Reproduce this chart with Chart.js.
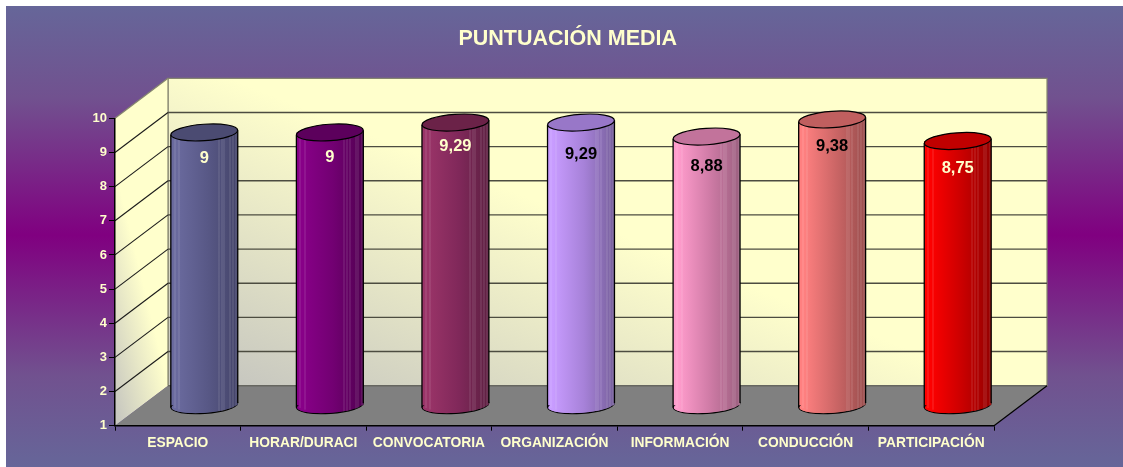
<!DOCTYPE html>
<html><head><meta charset="utf-8">
<style>html,body{margin:0;padding:0;background:#fff;overflow:hidden}canvas{display:block}</style>
<script src="https://cdn.jsdelivr.net/npm/chart.js@4"></script>
</head><body><canvas id="c" width="1123" height="467"></canvas>
<script>
const chartTitle = 'PUNTUACIÓN MEDIA';
const categories = ['ESPACIO','HORAR/DURACI','CONVOCATORIA','ORGANIZACIÓN','INFORMACIÓN','CONDUCCIÓN','PARTICIPACIÓN'];
const scores = [9, 9, 9.29, 9.29, 8.88, 9.38, 8.75];
const axisMin = 1, axisMax = 10, axisStep = 1;

const barLight = ['#6a6a9e','#880088','#9a3468','#c89cff','#ff9ccc','#ff8080','#ff0000'];
const barMid   = ['#585886','#720072','#80285a','#a681d8','#cf7ba6','#cc6666','#cc0000'];
const barDark  = ['#44446a','#520052','#5e2042','#77609c','#9c6080','#9a4e4e','#960000'];
const capFill  = ['#4b4b72','#5c005c','#6b2248','#9877c8','#c2739b','#c05f5f','#c00000'];
const labelInk = ['#ffffcc','#ffffcc','#ffffcc','#000000','#000000','#000000','#ffffcc'];
const labelDrop = [26,25,24,32,30,27,27];
const stripes = [.05,.12,.71,.75,.79,.88,.92,.97];

const cream = '#ffffcc', depthX = 53, depthY = -40, midX = depthX/2, midY = depthY/2;
const capRy = 8.2, capTilt = -0.07, categoryShare = 0.533;
const fontFamily = '"Liberation Sans", Arial, sans-serif';

function line(ctx,x1,y1,x2,y2,col,w){ctx.strokeStyle=col;ctx.lineWidth=w;ctx.beginPath();ctx.moveTo(x1,y1);ctx.lineTo(x2,y2);ctx.stroke();}
function poly(ctx,pts,fill,stroke){ctx.beginPath();pts.forEach((p,i)=>i?ctx.lineTo(p[0],p[1]):ctx.moveTo(p[0],p[1]));ctx.closePath();
  if(fill){ctx.fillStyle=fill;ctx.fill();} if(stroke){ctx.strokeStyle=stroke;ctx.lineWidth=1.2;ctx.stroke();}}

function barFill(ctx,l,r,i){
  const g=ctx.createLinearGradient(l,0,r,0);
  g.addColorStop(0,barLight[i]);g.addColorStop(.08,barLight[i]);g.addColorStop(.55,barMid[i]);g.addColorStop(1,barDark[i]);
  return g;
}

const scene3d = {
  id:'scene3d',
  beforeDraw(chart){
    const {ctx,chartArea:a,scales:{y}} = chart, W=chart.width, H=chart.height;
    ctx.save();
    ctx.fillStyle='#ffffff';ctx.fillRect(0,0,W,H);
    const bg=ctx.createLinearGradient(0,6,0,H);
    bg.addColorStop(0,'#666699');bg.addColorStop(0.2,'#71518f');bg.addColorStop(0.497,'#800080');bg.addColorStop(0.8,'#71518f');bg.addColorStop(1,'#666699');
    ctx.fillStyle=bg;ctx.fillRect(6,6,W-6,H-6);
    const L=a.left,R=a.right,T=a.top,B=a.bottom;
    // back wall
    const g=ctx.createLinearGradient(L+145,B-36,L+248,B-294);
    g.addColorStop(0,'#c8c8c0');g.addColorStop(1,cream);
    poly(ctx,[[L+depthX,T+depthY],[R+depthX,T+depthY],[R+depthX,B+depthY],[L+depthX,B+depthY]],g,'#85856f');
    // side wall
    const s=ctx.createLinearGradient(L,B-20,L+55,B-33.5);
    s.addColorStop(0,'#c8c8c0');s.addColorStop(1,cream);
    poly(ctx,[[L,T],[L+depthX,T+depthY],[L+depthX,B+depthY],[L,B]],s,null);
    line(ctx,L,T,L+depthX,T+depthY,'#85856f',1.2);
    line(ctx,L+depthX,T+depthY,L+depthX,B+depthY,'#85856f',1.2);
    // floor
    poly(ctx,[[L,B],[R,B],[R+depthX,B+depthY],[L+depthX,B+depthY]],'#808080',null);
    line(ctx,L+depthX,B+depthY,R+depthX,B+depthY,'#666660',1.5);
    line(ctx,R,B,R+depthX,B+depthY,'#000000',1.2);
    // gridlines
    y.ticks.forEach(t=>{
      if(t.value===axisMin||t.value===axisMax) return;
      const p=y.getPixelForValue(t.value);
      line(ctx,L,p,L+depthX,p+depthY,'#1a1a1a',1.1);
      line(ctx,L+depthX,p+depthY,R+depthX,p+depthY,'#4c4c40',1.4);
    });
    ctx.restore();
  },
  beforeDatasetDraw(chart,args){
    const {ctx}=chart, m=chart.getDatasetMeta(args.index);
    ctx.save();
    ctx.translate(midX,midY);
    m.data.forEach((b,i)=>{
      const rx=b.width/2;
      ctx.beginPath();ctx.ellipse(b.x,b.base,rx,capRy,capTilt,0,Math.PI*2);
      ctx.fillStyle=barFill(ctx,b.x-rx,b.x+rx,i);ctx.fill();
      ctx.strokeStyle='#000';ctx.lineWidth=1.2;ctx.stroke();
    });
  },
  afterDatasetDraw(chart,args){
    const {ctx}=chart, m=chart.getDatasetMeta(args.index);
    m.data.forEach((b,i)=>{
      const rx=b.width/2,l=b.x-rx,r=b.x+rx;
      // fill joint between barrel and lower rim
      ctx.fillStyle=barFill(ctx,l,r,i);
      ctx.beginPath();ctx.ellipse(b.x,b.base,rx-.6,capRy-.6,capTilt,0,Math.PI);ctx.fill();
      // vertical highlights
      ctx.strokeStyle='rgba(255,255,255,0.17)';ctx.lineWidth=1;
      stripes.forEach(f=>{const x=Math.round(l+f*b.width)+.5;
        ctx.beginPath();ctx.moveTo(x,b.y);ctx.lineTo(x,b.base+capRy*Math.sqrt(Math.max(0,1-Math.pow((x-b.x)/rx,2)))-1);ctx.stroke();});
      // outline
      line(ctx,l,b.y+2.2,l,b.base+2.2,'#000',1.3);
      line(ctx,r,b.y-2.2,r,b.base-2.2,'#000',1.3);
      // top cap
      ctx.beginPath();ctx.ellipse(b.x,b.y,rx,capRy,capTilt,0,Math.PI*2);
      ctx.fillStyle=capFill[i];ctx.fill();
      ctx.strokeStyle='#000';ctx.lineWidth=1.2;ctx.stroke();
    });
    ctx.restore();
  },
  afterDatasetsDraw(chart){
    const {ctx}=chart, m=chart.getDatasetMeta(0);
    ctx.save();
    ctx.font='bold 16.5px '+fontFamily;
    ctx.textAlign='center';ctx.textBaseline='middle';
    m.data.forEach((b,i)=>{
      ctx.fillStyle=labelInk[i];
      ctx.fillText(String(scores[i]).replace('.',','),b.x+midX,b.y+midY+labelDrop[i]);
    });
    ctx.restore();
  }
};

new Chart(document.getElementById('c'),{
  type:'bar',
  plugins:[scene3d],
  data:{labels:categories,datasets:[{
    data:scores,base:axisMin,clip:false,borderWidth:0,barPercentage:1,categoryPercentage:categoryShare,
    backgroundColor(c){
      const sx=c.chart.scales.x, i=c.dataIndex;
      if(!sx||i==null) return barMid[i||0];
      const x=sx.getPixelForValue(i), half=sx.width/categories.length*categoryShare/2;
      if(!Number.isFinite(x)||!Number.isFinite(half)) return barMid[i];
      return barFill(c.chart.ctx,x-half,x+half,i);}
  }]},
  options:{
    responsive:false,animation:false,devicePixelRatio:1,
    layout:{padding:{left:12.5,right:0,top:0,bottom:0}},
    plugins:{legend:{display:false},tooltip:{enabled:false},
      title:{display:true,text:chartTitle,color:cream,align:'center',
        font:{family:fontFamily,weight:'bold',size:21.5},
        padding:{top:26,bottom:66.5}}},
    scales:{
      x:{offset:true,
        grid:{display:true,drawOnChartArea:false,drawTicks:true,tickLength:5,color:'#000'},
        border:{color:'#000',width:1.5},
        ticks:{color:cream,autoSkip:false,maxRotation:0,minRotation:0,padding:4,
          font:{family:fontFamily,weight:'bold',size:13.8}},
        afterFit(s){s.height=41.3;}},
      y:{min:axisMin,max:axisMax,
        grid:{display:true,drawOnChartArea:false,drawTicks:true,tickLength:6,color:'#000'},
        border:{color:'#000',width:1.5},
        ticks:{stepSize:axisStep,color:cream,padding:2,
          font:{family:fontFamily,weight:'bold',size:13}},
        afterFit(s){s.width=102.5;}},
      rightGap:{position:'right',axis:'y',grid:{display:false},border:{display:false},
        ticks:{display:false},afterFit(s){s.width=129;}}
    }
  }
});
</script></body></html>
